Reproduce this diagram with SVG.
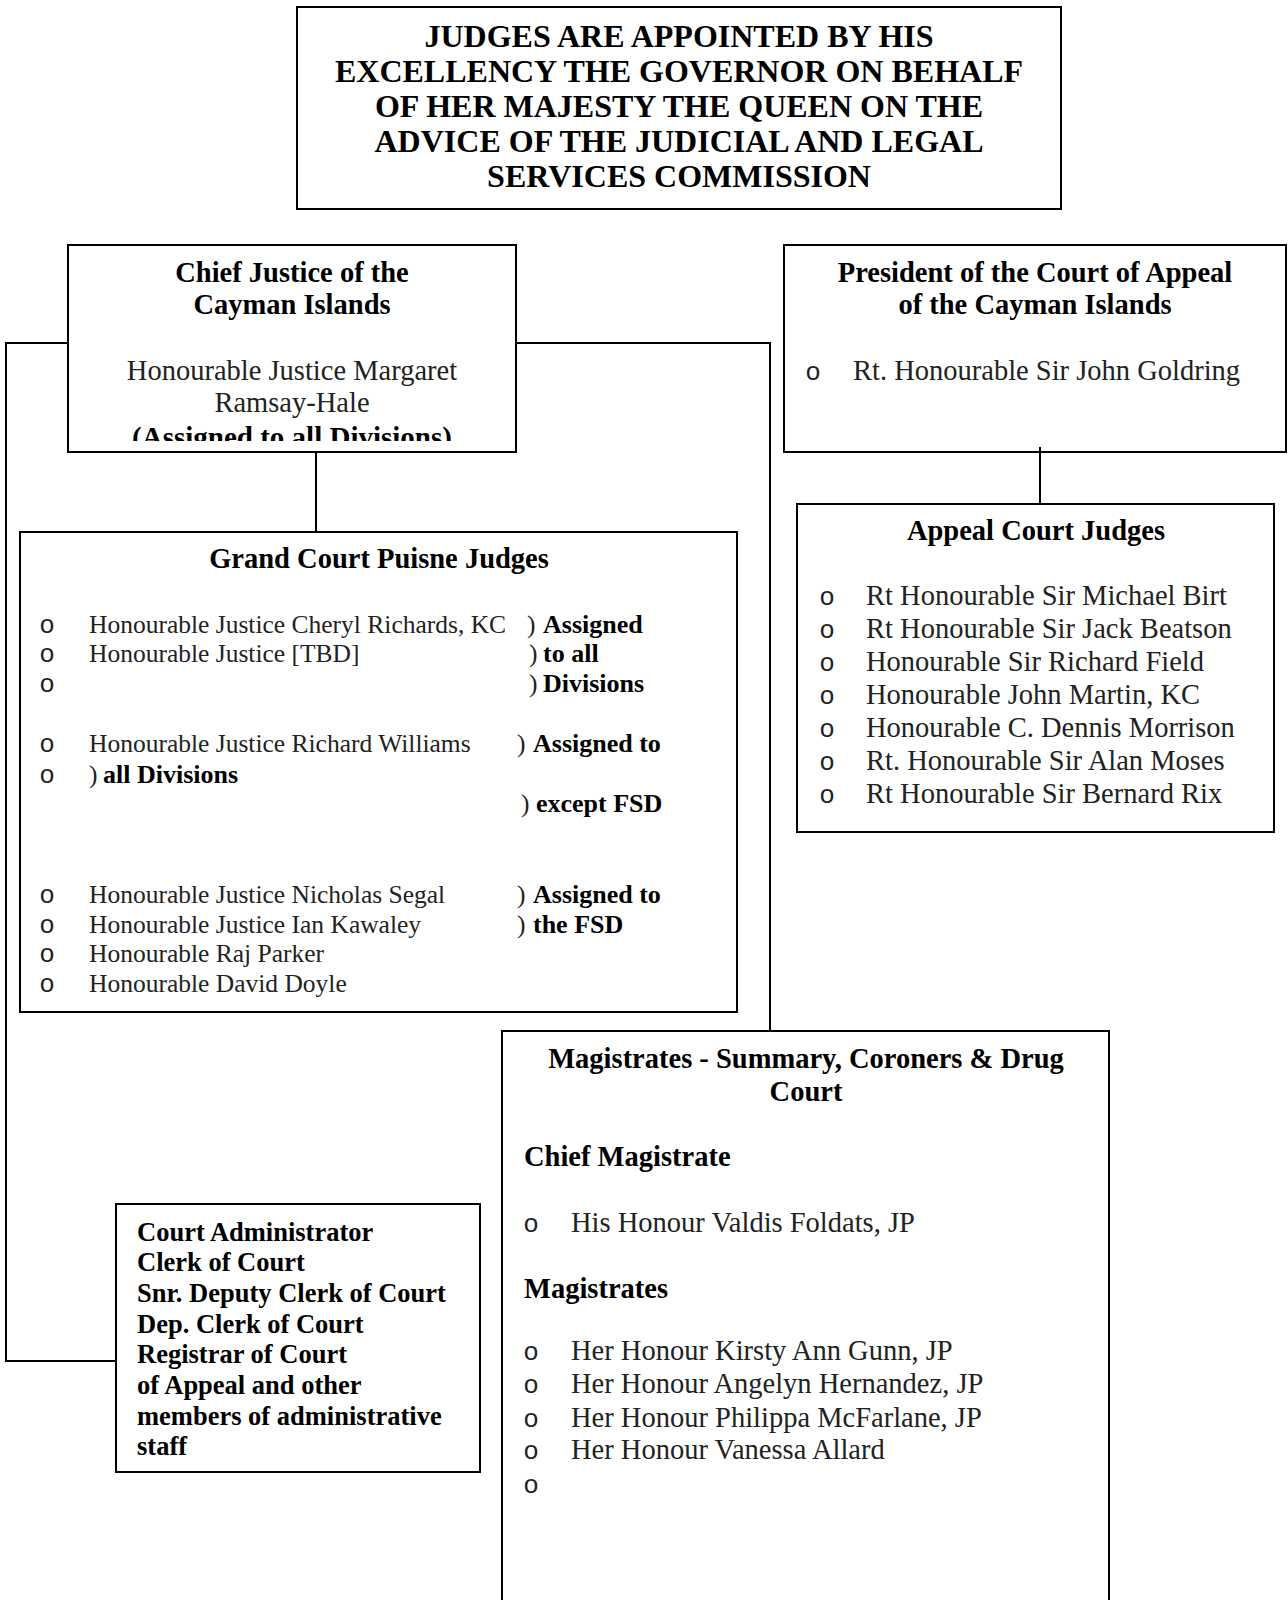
<svg xmlns="http://www.w3.org/2000/svg" width="1288" height="1600" viewBox="0 0 1288 1600">
<style>
.box{fill:#fff;stroke:#000;stroke-width:2}
.h{font-family:"Liberation Serif",serif;font-weight:bold;font-size:28.5px;fill:#000}
.top{font-family:"Liberation Serif",serif;font-weight:bold;font-size:32px;fill:#000;text-anchor:middle}
.t{font-family:"Liberation Serif",serif;font-size:28.5px;fill:#222}
.g{font-family:"Liberation Serif",serif;font-size:25.5px;fill:#222}
.gb{font-family:"Liberation Serif",serif;font-size:26px;font-weight:bold;fill:#000}
.a{font-family:"Liberation Serif",serif;font-size:26.5px;font-weight:bold;fill:#000}
.bu{font-family:"Liberation Mono",monospace;font-size:26px;fill:#222;text-anchor:middle}
.c{text-anchor:middle}
.conn{fill:none;stroke:#000;stroke-width:2}
</style>
<defs>
<clipPath id="cjclip"><rect x="68" y="245" width="448" height="196"/></clipPath>
</defs>
<rect width="1288" height="1600" fill="#fff"/>

<g id="node-appointment">
<rect class="box" x="297" y="7" width="764" height="202"/>
<text class="top" x="679" y="47">JUDGES ARE APPOINTED BY HIS</text>
<text class="top" x="679" y="82">EXCELLENCY THE GOVERNOR ON BEHALF</text>
<text class="top" x="679" y="117">OF HER MAJESTY THE QUEEN ON THE</text>
<text class="top" x="679" y="152">ADVICE OF THE JUDICIAL AND LEGAL</text>
<text class="top" x="679" y="187">SERVICES COMMISSION</text>
</g>

<g id="node-chief-justice">
<rect class="box" x="68" y="245" width="448" height="207"/>
<text class="h c" x="292" y="282">Chief Justice of the</text>
<text class="h c" x="292" y="314">Cayman Islands</text>
<text class="t c" x="292" y="380">Honourable Justice Margaret</text>
<text class="t c" x="292" y="412">Ramsay-Hale</text>
<g clip-path="url(#cjclip)">
<text class="h c" x="292" y="447" style="font-size:29px">(Assigned to all Divisions)</text>
</g>
</g>

<g id="node-president">
<rect class="box" x="784" y="245" width="502" height="207"/>
<text class="h c" x="1035" y="282">President of the Court of Appeal</text>
<text class="h c" x="1035" y="314">of the Cayman Islands</text>
<text class="bu" x="813" y="380">o</text>
<text class="t" x="853" y="380">Rt. Honourable Sir John Goldring</text>
</g>

<g id="node-appeal-judges">
<rect class="box" x="797" y="504" width="477" height="328"/>
<text class="h c" x="1036" y="540">Appeal Court Judges</text>
<text class="bu" x="827" y="605">o</text><text class="t" x="866" y="605">Rt Honourable Sir Michael Birt</text>
<text class="bu" x="827" y="638">o</text><text class="t" x="866" y="638">Rt Honourable Sir Jack Beatson</text>
<text class="bu" x="827" y="671">o</text><text class="t" x="866" y="671">Honourable Sir Richard Field</text>
<text class="bu" x="827" y="704">o</text><text class="t" x="866" y="704">Honourable John Martin, KC</text>
<text class="bu" x="827" y="737">o</text><text class="t" x="866" y="737">Honourable C. Dennis Morrison</text>
<text class="bu" x="827" y="770">o</text><text class="t" x="866" y="770">Rt. Honourable Sir Alan Moses</text>
<text class="bu" x="827" y="803">o</text><text class="t" x="866" y="803">Rt Honourable Sir Bernard Rix</text>
</g>

<g id="node-grand-court">
<rect class="box" x="20" y="532" width="717" height="480"/>
<text class="h c" x="379" y="568">Grand Court Puisne Judges</text>
<text class="bu" x="47" y="633">o</text><text class="g" x="89" y="633">Honourable Justice Cheryl Richards, KC</text>
<text class="g" x="527" y="633">)</text><text class="gb" x="543" y="633">Assigned</text>
<text class="bu" x="47" y="662">o</text><text class="g" x="89" y="662">Honourable Justice [TBD]</text>
<text class="g" x="529" y="662">)</text><text class="gb" x="543" y="662">to all</text>
<text class="bu" x="47" y="692">o</text>
<text class="g" x="529" y="692">)</text><text class="gb" x="543" y="692">Divisions</text>
<text class="bu" x="47" y="752">o</text><text class="g" x="89" y="752">Honourable Justice Richard Williams</text>
<text class="g" x="517" y="752">)</text><text class="gb" x="533" y="752">Assigned to</text>
<text class="bu" x="47" y="783">o</text><text class="g" x="89" y="783">)</text><text class="gb" x="103" y="783">all Divisions</text>
<text class="g" x="521" y="812">)</text><text class="gb" x="536" y="812">except FSD</text>
<text class="bu" x="47" y="903">o</text><text class="g" x="89" y="903">Honourable Justice Nicholas Segal</text>
<text class="g" x="517" y="903">)</text><text class="gb" x="533" y="903">Assigned to</text>
<text class="bu" x="47" y="933">o</text><text class="g" x="89" y="933">Honourable Justice Ian Kawaley</text>
<text class="g" x="517" y="933">)</text><text class="gb" x="533" y="933">the FSD</text>
<text class="bu" x="47" y="962">o</text><text class="g" x="89" y="962">Honourable Raj Parker</text>
<text class="bu" x="47" y="992">o</text><text class="g" x="89" y="992">Honourable David Doyle</text>
</g>

<g id="node-magistrates">
<rect class="box" x="502" y="1031" width="607" height="600"/>
<text class="h c" x="806" y="1068">Magistrates - Summary, Coroners &amp; Drug</text>
<text class="h c" x="806" y="1101">Court</text>
<text class="h" x="524" y="1166">Chief Magistrate</text>
<text class="bu" x="531" y="1232">o</text><text class="t" x="571" y="1232">His Honour Valdis Foldats, JP</text>
<text class="h" x="524" y="1298">Magistrates</text>
<text class="bu" x="531" y="1360">o</text><text class="t" x="571" y="1360">Her Honour Kirsty Ann Gunn, JP</text>
<text class="bu" x="531" y="1393">o</text><text class="t" x="571" y="1393">Her Honour Angelyn Hernandez, JP</text>
<text class="bu" x="531" y="1427">o</text><text class="t" x="571" y="1427">Her Honour Philippa McFarlane, JP</text>
<text class="bu" x="531" y="1459">o</text><text class="t" x="571" y="1459">Her Honour Vanessa Allard</text>
<text class="bu" x="531" y="1493">o</text>
</g>

<g id="node-court-admin">
<rect class="box" x="116" y="1204" width="364" height="268"/>
<text class="a" x="137" y="1241">Court Administrator</text>
<text class="a" x="137" y="1271">Clerk of Court</text>
<text class="a" x="137" y="1302">Snr. Deputy Clerk of Court</text>
<text class="a" x="137" y="1333">Dep. Clerk of Court</text>
<text class="a" x="137" y="1363">Registrar of Court</text>
<text class="a" x="137" y="1394">of Appeal and other</text>
<text class="a" x="137" y="1425">members of administrative</text>
<text class="a" x="137" y="1455">staff</text>
</g>

<g id="connectors">
<path class="conn" d="M68,343 H6 V1361 H116"/>
<path class="conn" d="M516,343 H770 V1031"/>
<path class="conn" d="M316,452 V532"/>
<path class="conn" d="M1040,447 V504"/>
</g>
</svg>
